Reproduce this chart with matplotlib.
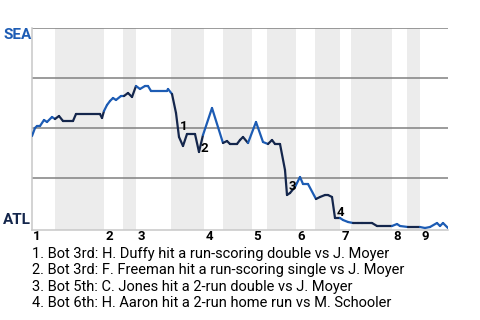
import matplotlib
matplotlib.use("Agg")
import matplotlib.pyplot as plt
from matplotlib.collections import LineCollection
import numpy as np

plt.rcParams['font.family'] = ['Roboto', 'DejaVu Sans']

# plays (x) and Seattle win probability (y)
play = [0, 0.75, 1.25, 2, 3, 3.75, 5, 5.75, 6.75, 7.75, 10.25, 11, 17, 17.5, 18,
        18.75, 19.5, 20.25, 21, 22.25, 23, 24, 25, 26, 27, 28.25, 29, 29.75,
        33.75, 34, 35, 36, 36.75, 37.75, 38.75, 40.75, 41.75, 42.75, 45, 47.75,
        48.75, 49.5, 51.25, 52, 52.75, 54, 56, 57.75, 59, 60, 60.75, 62, 63.25,
        63.75, 64.5, 65.75, 67, 67.75, 69, 71, 72, 73.25, 74, 75, 75.75, 77,
        77.75, 79, 80.25, 81.5, 82.5, 85, 86.25, 90, 91.25, 92, 94, 97, 98.25,
        99.5, 101.25, 102, 102.75, 104]
sea_wp = [0.46, 0.50, 0.51, 0.51, 0.54, 0.53, 0.555, 0.545, 0.56, 0.535, 0.535,
          0.57, 0.57, 0.55, 0.585, 0.615, 0.635, 0.65, 0.64, 0.66, 0.66, 0.675,
          0.655, 0.71, 0.695, 0.71, 0.71, 0.685, 0.685, 0.695, 0.67, 0.575,
          0.455, 0.41, 0.47, 0.47, 0.38, 0.465, 0.60, 0.425, 0.435, 0.42, 0.42,
          0.44, 0.455, 0.425, 0.53, 0.43, 0.42, 0.44, 0.42, 0.42, 0.29, 0.165,
          0.175, 0.205, 0.255, 0.22, 0.22, 0.145, 0.155, 0.165, 0.165, 0.155,
          0.05, 0.05, 0.04, 0.03, 0.025, 0.025, 0.025, 0.025, 0.01, 0.01, 0.02,
          0.01, 0.005, 0.005, 0.0, 0.005, 0.025, 0.01, 0.025, 0.0]

# start of each half inning (top 1st, bot 1st, top 2nd, ...)
half_start = [0, 5.75, 18, 22.75, 26, 34.75, 43, 47.75, 55, 58.75, 66, 70.75,
              77, 79.75, 90, 93.75, 97]
game_end = 104

innings = ['1', '2', '3', '4', '5', '6', '7', '8', '9']

key_plays = ['1. Bot 3rd: H. Duffy hit a run-scoring double vs J. Moyer',
             '2. Bot 3rd: F. Freeman hit a run-scoring single vs J. Moyer',
             '3. Bot 5th: C. Jones hit a 2-run double vs J. Moyer',
             '4. Bot 6th: H. Aaron hit a 2-run home run vs M. Schooler']
key_x = [38, 43, 65, 77]
key_y = [0.51, 0.40, 0.205, 0.075]

sea_blue = '#1d5cb4'
atl_navy = '#14264c'

fig = plt.figure(figsize=(4.8, 3.2), dpi=100)
ax = fig.add_axes([32/480, 1-230/320, 416/480, 202/320])

ends = half_start[1:] + [game_end]
for i, (s, e) in enumerate(zip(half_start, ends)):
    if i % 2 == 1:
        ax.axvspan(s, e, color='#ececec', lw=0, zorder=0)

for g in [0.25, 0.5, 0.75, 1.0]:
    ax.axhline(g, color='#808080', lw=1.1, zorder=1)

# colour each segment by batting team
pts = np.column_stack([play, sea_wp])
segs = np.stack([pts[:-1], pts[1:]], axis=1)
cols = []
for a, b in zip(play[:-1], play[1:]):
    mid = (a + b) / 2
    k = np.searchsorted(half_start, mid, side='right') - 1
    cols.append(atl_navy if k % 2 == 1 else sea_blue)
ax.add_collection(LineCollection(segs, colors=cols, lw=1.6, zorder=3,
                                 capstyle='round', joinstyle='round'))

for t, x, y in zip(range(1, 5), key_x, key_y):
    ax.text(x, y, str(t), fontsize=9.5, fontweight='bold', color='black',
            ha='center', va='center', zorder=4)

ax.set_xlim(0, game_end)
ax.set_ylim(-0.01, 1.0)
ax.set_xticks([])
ax.set_yticks([])
for s in ['top', 'right']:
    ax.spines[s].set_visible(False)
for s in ['left', 'bottom']:
    ax.spines[s].set_color('#c8c8c8')
    ax.spines[s].set_linewidth(1.1)

for lab, s in zip(innings, half_start[::2]):
    ax.text(s + 0.3, -0.06, lab, fontsize=9.5, fontweight='bold', color='black',
            ha='left', va='baseline')

fig.text(3/480, 1-35/320, 'SEA', fontsize=11, fontweight='bold', color=sea_blue,
         ha='left', va='center')
fig.text(3/480, 1-220/320, 'ATL', fontsize=11, fontweight='bold', color=atl_navy,
         ha='left', va='center')

for i, line in enumerate(key_plays):
    fig.text(32/480, 1-(258 + 16.3*i)/320, line, fontsize=10.5, color='black',
             ha='left', va='baseline')

fig.savefig('out.png', dpi=100, facecolor='white')
